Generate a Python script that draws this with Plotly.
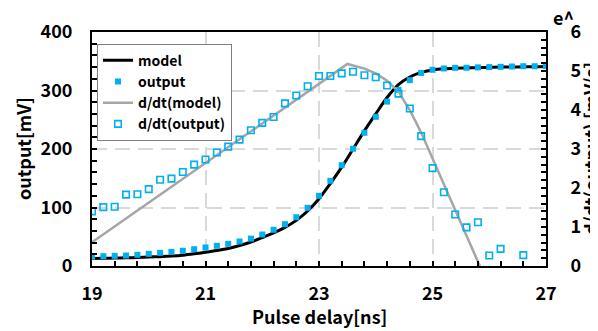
import plotly.graph_objects as go

# ---- data ----
delay_ns = [19.0, 19.2, 19.4, 19.6, 19.8, 20.0, 20.2, 20.4, 20.6, 20.8,
            21.0, 21.2, 21.4, 21.6, 21.8, 22.0, 22.2, 22.4, 22.6, 22.8,
            23.0, 23.2, 23.4, 23.6, 23.8, 24.0, 24.2, 24.4, 24.6, 24.8,
            25.0, 25.2, 25.4, 25.6, 25.8, 26.0, 26.2, 26.4, 26.6, 26.8, 27.0]

model_mV = [12.8, 13.2, 13.6, 14.0, 14.5, 15.2, 16.0, 17.0, 18.5, 20.8,
            23.5, 26.5, 30.0, 35.0, 41.0, 48.5, 56.5, 66.0, 78.0, 94.0,
            115.0, 141.0, 169.0, 200.0, 231.0, 260.0, 288.0, 310.0, 323.0, 331.0,
            335.0, 337.0, 338.0, 338.5, 339.0, 339.5, 340.0, 340.0, 340.5, 340.5, 341.0]

output_mV = [15.7, 16.8, 17.3, 17.9, 19.1, 20.8, 22.5, 24.2, 26.0, 28.7,
             31.6, 34.5, 37.9, 41.9, 46.8, 53.8, 61.9, 71.5, 83.4, 99.5,
             120.0, 145.6, 172.3, 200.5, 227.7, 255.0, 281.0, 301.0, 317.6, 330.0,
             335.4, 337.6, 338.7, 338.9, 339.5, 340.0, 340.5, 341.0, 341.5, 341.5, 342.0]

d_output = [1.40, 1.51, 1.52, 1.83, 1.84, 1.97, 2.21, 2.24, 2.41, 2.60,
            2.73, 2.91, 3.06, 3.24, 3.48, 3.67, 3.82, 4.17, 4.37, 4.61,
            4.87, 4.87, 4.94, 4.98, 4.89, 4.84, 4.63, 4.42, 4.04, 3.33,
            2.51, 1.89, 1.32, 0.99, 1.12, 0.27, 0.44, None, 0.28, None, None]

d_model_x = [19.0, 20.0, 21.0, 22.0, 23.0, 23.5, 23.8, 24.0, 24.2, 24.4,
             24.6, 24.8, 25.0, 25.2, 25.4, 25.6, 25.8, 26.0]
d_model = [0.61, 1.62, 2.64, 3.65, 4.67, 5.18, 5.06, 4.94, 4.75, 4.47,
           4.00, 3.42, 2.76, 2.08, 1.42, 0.76, 0.12, -0.55]

x_ticks = [19, 21, 23, 25, 27]
y_ticks = [0, 100, 200, 300, 400]
y2_ticks = [0, 1, 2, 3, 4, 5, 6]

BLUE = "#00B0F0"
GREY = "#A6A6A6"
GRID = "#D9D9D9"

fig = go.Figure()
fig.add_trace(go.Scatter(x=delay_ns, y=model_mV, mode="lines", name="model",
                         line=dict(color="black", width=3, shape="spline"),
                         legendrank=1))
fig.add_trace(go.Scatter(x=delay_ns, y=output_mV, mode="markers", name="output",
                         marker=dict(symbol="square", size=6, color=BLUE),
                         legendrank=2))
fig.add_trace(go.Scatter(x=d_model_x, y=d_model, mode="lines", name="d/dt(model)",
                         line=dict(color=GREY, width=2.5), yaxis="y2",
                         legendrank=3))
fig.add_trace(go.Scatter(x=delay_ns, y=d_output, mode="markers", name="d/dt(output)",
                         marker=dict(symbol="square-open", size=6.5, color=BLUE,
                                     line=dict(width=1.6, color=BLUE)),
                         yaxis="y2", legendrank=4))

axis_common = dict(ticks="inside", ticklen=5, tickwidth=1.5, tickcolor="black",
                   showline=True, linecolor="black", linewidth=2,
                   zeroline=False, tickfont=dict(size=18), automargin=False)

# page body has an 8px margin, so the figure is sized 590x323
fig.update_layout(
    width=590, height=323,
    margin=dict(l=84, r=52, t=24, b=65, autoexpand=False),
    paper_bgcolor="white", plot_bgcolor="white",
    font=dict(family="Noto Sans CJK JP", color="black", weight="bold"),
    showlegend=True,
    legend=dict(x=0.011, y=0.95, xanchor="left", yanchor="top",
                bgcolor="white", bordercolor="#7F7F7F", borderwidth=1,
                font=dict(size=14), tracegroupgap=0, itemwidth=30),
    xaxis=dict(range=[19, 27], tickvals=x_ticks, mirror=True,
               showgrid=True, gridcolor=GRID, gridwidth=2, griddash="15px,8px",
               ticklabelstandoff=10,
               minor=dict(ticks="inside", tick0=19, dtick=0.4, ticklen=5,
                          tickwidth=1.5, tickcolor="black", showgrid=False),
               **axis_common),
    yaxis=dict(range=[0, 400], tickvals=y_ticks, mirror=True,
               showgrid=True, gridcolor=GRID, gridwidth=2, griddash="15px,8px",
               ticklabelstandoff=14,
               minor=dict(ticks="inside", tick0=0, dtick=20, ticklen=5,
                          tickwidth=1.5, tickcolor="black", showgrid=False),
               **axis_common),
    yaxis2=dict(range=[0, 6], tickvals=y2_ticks, overlaying="y", side="right",
                showgrid=False, ticklabelstandoff=19,
                minor=dict(ticks="inside", tick0=0, dtick=0.2, ticklen=5,
                           tickwidth=1.5, tickcolor="black", showgrid=False),
                **axis_common),
)

title_font = dict(size=18)
fig.add_annotation(text="Pulse delay[ns]", xref="paper", yref="paper", x=0.5, y=0,
                   yshift=-50, showarrow=False, font=title_font,
                   xanchor="center", yanchor="middle")
fig.add_annotation(text="output[mV]", xref="paper", yref="paper", x=0, y=0.5,
                   xshift=-69, textangle=-90, showarrow=False, font=title_font,
                   xanchor="center", yanchor="middle")
fig.add_annotation(text="d/dt(output) [mV/s]", xref="paper", yref="paper", x=1, y=0.5,
                   xshift=44, textangle=-90, showarrow=False, font=title_font,
                   xanchor="center", yanchor="middle")
fig.add_annotation(text="e^", xref="paper", yref="paper", x=1.0, y=1.0,
                   xshift=5, yshift=15, showarrow=False,
                   font=title_font, xanchor="left", yanchor="middle")

fig.write_html("out.html")
